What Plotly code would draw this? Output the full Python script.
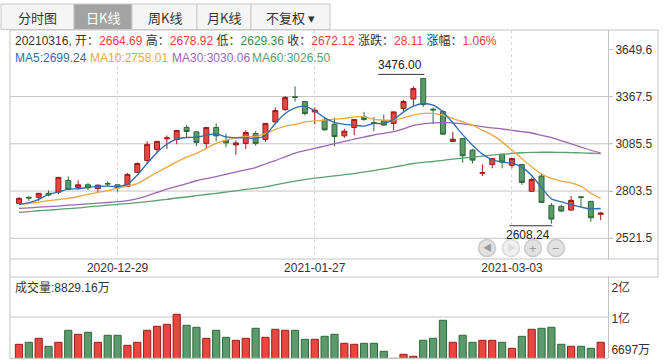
import plotly.graph_objects as go

# ---------------- data ----------------
dates = [
    "2020-12-15", "2020-12-16", "2020-12-17", "2020-12-18", "2020-12-21", "2020-12-22",
    "2020-12-23", "2020-12-24", "2020-12-25", "2020-12-28", "2020-12-29", "2020-12-30",
    "2020-12-31", "2021-01-04", "2021-01-05", "2021-01-06", "2021-01-07", "2021-01-08",
    "2021-01-11", "2021-01-12", "2021-01-13", "2021-01-14", "2021-01-15", "2021-01-18",
    "2021-01-19", "2021-01-20", "2021-01-21", "2021-01-22", "2021-01-25", "2021-01-26",
    "2021-01-27", "2021-01-28", "2021-01-29", "2021-02-01", "2021-02-02", "2021-02-03",
    "2021-02-04", "2021-02-05", "2021-02-08", "2021-02-09", "2021-02-10", "2021-02-18",
    "2021-02-19", "2021-02-22", "2021-02-23", "2021-02-24", "2021-02-25", "2021-02-26",
    "2021-03-01", "2021-03-02", "2021-03-03", "2021-03-04", "2021-03-05", "2021-03-08",
    "2021-03-09", "2021-03-10", "2021-03-11", "2021-03-12", "2021-03-15", "2021-03-16",
]
opens = [2730, 2766, 2766, 2790, 2797, 2867, 2825, 2841, 2819, 2848,
         2841, 2831, 2915, 2986, 3052, 3115, 3111, 3183, 3157, 3088,
         3183, 3106, 3079, 3088, 3147, 3111, 3216, 3290, 3366, 3338,
         3276, 3227, 3203, 3133, 3183, 3246, 3212, 3222, 3207, 3296,
         3353, 3475, 3292, 3278, 3100, 3117, 3048, 2910, 2962, 3024,
         2957, 2962, 2802, 2893, 2718, 2712, 2690, 2769, 2742, 2664.69]
highs = [2767, 2773, 2791, 2808, 2888, 2891, 2867, 2851, 2841, 2861,
         2843, 2911, 2975, 3101, 3103, 3135, 3167, 3197, 3160, 3184,
         3207, 3147, 3106, 3167, 3161, 3208, 3302, 3370, 3429, 3340,
         3302, 3246, 3242, 3175, 3232, 3276, 3246, 3260, 3278, 3346,
         3429, 3476.00, 3302, 3288, 3157, 3118, 3055, 2962, 3000, 3025,
         3000, 2965, 2885, 2909, 2732, 2722, 2774, 2771, 2744, 2678.92]
lows = [2728, 2745, 2745, 2772, 2785, 2809, 2813, 2809, 2797, 2829,
        2799, 2829, 2912, 2970, 3028, 3054, 3083, 3125, 3072, 3060,
        3100, 3066, 3020, 3055, 3075, 3097, 3212, 3282, 3338, 3255,
        3201, 3163, 3070, 3121, 3137, 3222, 3161, 3195, 3167, 3272,
        3312, 3306, 3203, 3140, 3097, 2972, 2968, 2893, 2939, 2939,
        2939, 2841, 2800, 2734, 2608.24, 2678, 2686, 2708, 2620, 2629.36]
closes = [2760, 2762, 2790, 2780, 2885, 2813, 2841, 2823, 2839, 2846,
          2823, 2903, 2968, 3082, 3100, 3121, 3165, 3159, 3094, 3183,
          3133, 3091, 3091, 3153, 3088, 3207, 3284, 3362, 3363, 3266,
          3286, 3169, 3129, 3161, 3231, 3231, 3208, 3197, 3276, 3338,
          3415, 3320, 3288, 3143, 3113, 3014, 2988, 2913, 2998, 2976,
          2998, 2855, 2873, 2736, 2636, 2684, 2748, 2766, 2644.01, 2672.12]
# volume in 万
volumes = [8559, 8825, 9357, 8293, 8825, 10421, 9889, 10155, 8825, 9756,
           9756, 8426, 8825, 10421, 10953, 11219, 12549, 11086, 10820, 9357,
           10421, 9490, 9091, 9357, 10687, 9490, 10554, 10421, 10421, 9224,
           9224, 9623, 9889, 8692, 8559, 8692, 8692, 7628, 6697, 7229,
           6963, 9091, 9357, 11751, 8825, 9756, 8825, 9091, 9091, 8825,
           8027, 9623, 10554, 10687, 10820, 8559, 8293, 8293, 8027, 8829.16]
ma5 = [2724, 2734, 2754, 2784, 2797, 2815, 2817, 2825, 2831, 2833,
       2831, 2845, 2899, 2968, 3034, 3083, 3113, 3123, 3125, 3137,
       3145, 3127, 3121, 3121, 3118, 3137, 3207, 3266, 3300, 3310,
       3282, 3240, 3213, 3201, 3197, 3191, 3207, 3207, 3231, 3276,
       3310, 3326, 3316, 3276, 3211, 3140, 3077, 3024, 2991, 2976,
       2970, 2946, 2896, 2824, 2757, 2740, 2722, 2708, 2697, 2699.24]
ma10 = [2724, 2729, 2738, 2746, 2753, 2760, 2771, 2784, 2795, 2806,
        2820, 2833, 2848, 2881, 2914, 2946, 2978, 3006, 3028, 3058,
        3088, 3107, 3121, 3130, 3128, 3147, 3171, 3191, 3201, 3216,
        3222, 3227, 3233, 3237, 3246, 3246, 3231, 3227, 3227, 3240,
        3256, 3267, 3267, 3256, 3237, 3216, 3197, 3167, 3137, 3097,
        3048, 2998, 2948, 2905, 2879, 2863, 2853, 2833, 2790, 2758.01]
ma30 = [2700, 2703, 2707, 2710, 2714, 2719, 2723, 2727, 2731, 2735,
        2740, 2746, 2758, 2775, 2795, 2815, 2831, 2848, 2865, 2878,
        2890, 2903, 2917, 2930, 2944, 2965, 2985, 3008, 3030, 3045,
        3058, 3072, 3086, 3100, 3114, 3126, 3138, 3148, 3158, 3175,
        3195, 3205, 3210, 3212, 3210, 3205, 3196, 3188, 3180, 3174,
        3166, 3158, 3150, 3136, 3123, 3105, 3085, 3066, 3047, 3030.06]
ma60 = [2676, 2681, 2686, 2690, 2694, 2699, 2703, 2709, 2714, 2719,
        2724, 2729, 2734, 2740, 2747, 2754, 2762, 2768, 2776, 2783,
        2790, 2797, 2805, 2813, 2821, 2829, 2840, 2852, 2863, 2872,
        2880, 2887, 2894, 2901, 2908, 2916, 2926, 2936, 2946, 2957,
        2968, 2975, 2980, 2987, 2994, 3000, 3006, 3012, 3018, 3023,
        3028, 3032, 3034, 3035, 3035, 3034, 3033, 3031, 3029, 3026.50]
price_ticks = [2521.5, 2803.5, 3085.5, 3367.5, 3649.6]
date_ticks = ["2020-12-29", "2021-01-27", "2021-03-03"]
vol_tick_labels = ["2亿", "1亿", "6697万"]
tab_labels = ["分时图", "日K线", "周K线", "月K线", "不复权 ▾"]

# ---------------- style ----------------
W, H = 664, 364
UP_FILL, UP_LINE = "#e8473f", "#991c1c"
DN_FILL, DN_LINE = "#5c9a6d", "#2d6a38"
RED_TXT, GRN_TXT = "#e8413c", "#3a8a52"
MA_COLORS = {"MA5": "#2f6eae", "MA10": "#eaa845", "MA30": "#9b68b4", "MA60": "#5aa070"}
FRAME = "#c4c4c4"
FONT = "Liberation Sans, Noto Sans CJK SC, sans-serif"


def px(x):
    return x / W


def py(y):
    return 1 - y / H


fig = go.Figure()
fig.add_trace(go.Candlestick(
    x=dates, open=opens, high=highs, low=lows, close=closes,
    increasing=dict(line=dict(color=UP_LINE, width=1), fillcolor=UP_FILL),
    decreasing=dict(line=dict(color=DN_LINE, width=1), fillcolor=DN_FILL),
    whiskerwidth=0, showlegend=False, hoverinfo="skip", xaxis="x", yaxis="y"))

for name, vals in [("MA60", ma60), ("MA30", ma30), ("MA10", ma10), ("MA5", ma5)]:
    fig.add_trace(go.Scatter(
        x=dates, y=vals, mode="lines", name=name, showlegend=False, hoverinfo="skip",
        line=dict(color=MA_COLORS[name], width=1.3, shape="spline", smoothing=0.7),
        xaxis="x", yaxis="y"))

up = [c >= o for o, c in zip(opens, closes)]
fig.add_trace(go.Bar(
    x=dates, y=volumes, showlegend=False, hoverinfo="skip",
    marker=dict(color=[UP_FILL if u else DN_FILL for u in up],
                line=dict(color=[UP_LINE if u else DN_LINE for u in up], width=1)),
    xaxis="x2", yaxis="y2"))

# axis scales (pixel geometry of the reference)
price_range = [2397.9, 3764.8]
vol_range = [6697, 17510]
vol_label_vals = [16047, 11924, 7801]
vol_grid_val = 12190

fig.update_layout(
    width=W, height=H, margin=dict(l=0, r=0, t=0, b=0),
    paper_bgcolor="white", plot_bgcolor="white",
    font=dict(family=FONT, size=12, color="#333"),
    bargap=0.27, boxgap=0.28,
    xaxis=dict(type="category", domain=[px(10), px(608)], range=[-0.91, 59.74],
               anchor="y", tickmode="array", tickvals=date_ticks, ticktext=date_ticks,
               showgrid=True, gridcolor="#d8d8d8", griddash="dot", gridwidth=1,
               showline=False, zeroline=False, ticks="", rangeslider=dict(visible=False),
               tickfont=dict(size=12, color="#333"), fixedrange=True),
    xaxis2=dict(type="category", domain=[px(10), px(608)], range=[-0.91, 59.74],
                anchor="y2", matches="x", showticklabels=False, showgrid=False,
                showline=False, zeroline=False, ticks=""),
    yaxis=dict(domain=[py(259), py(30)], range=price_range, side="right",
               tickmode="array", tickvals=price_ticks,
               ticktext=[f"{v:.1f}" for v in price_ticks],
               showgrid=False, zeroline=False, showline=True, linecolor=FRAME,
               ticks="outside", ticklen=4, tickcolor=FRAME,
               tickfont=dict(size=12, color="#333"), automargin=False),
    yaxis2=dict(domain=[py(358.3), py(277)], range=vol_range, side="right",
                tickmode="array", tickvals=vol_label_vals, ticktext=vol_tick_labels,
                showgrid=False, zeroline=False, showline=True, linecolor=FRAME,
                ticks="", tickfont=dict(size=12, color="#333"), automargin=False),
)

shapes = []
# gridlines for price axis (top one hidden behind info area in reference)
for v in price_ticks[:-1]:
    shapes.append(dict(type="line", xref="paper", yref="y", x0=px(10), x1=px(612),
                       y0=v, y1=v, line=dict(color=FRAME, width=1), layer="below"))
shapes.append(dict(type="line", xref="paper", yref="y2", x0=px(10), x1=px(608),
                   y0=vol_grid_val, y1=vol_grid_val, line=dict(color=FRAME, width=1), layer="below"))
# frame lines
for (x0, y0, x1, y1) in [(10, 30, 658, 30), (10, 259, 658, 259), (10, 277, 658, 277),
                         (10, 358.3, 608, 358.3), (10, 30, 10, 358.3), (658, 30, 658, 277)]:
    shapes.append(dict(type="line", xref="paper", yref="paper", x0=px(x0), x1=px(x1),
                       y0=py(y0), y1=py(y1), line=dict(color=FRAME, width=1)))

# tabs
tab_edges = [(1, 74), (74, 132), (132, 197), (197, 251), (251, 330)]
annotations = []
for i, (lab, (a, b)) in enumerate(zip(tab_labels, tab_edges)):
    sel = i == 1
    shapes.append(dict(type="rect", xref="paper", yref="paper", x0=px(a), x1=px(b),
                       y0=py(29.5), y1=py(4), fillcolor="#a3a3a3" if sel else "#f5f5f5",
                       line=dict(color="#c8c8c8", width=1)))
    annotations.append(dict(xref="paper", yref="paper", x=px((a + b) / 2), y=py(17),
                            text=lab, showarrow=False, xanchor="center", yanchor="middle",
                            font=dict(size=13, color="white" if sel else "#333",
                                      family="Noto Sans CJK SC, sans-serif")))

# info rows built from the data
chg = closes[-1] - closes[-2]
pct = chg / closes[-2] * 100
def col(v):
    return RED_TXT if v >= closes[-2] else GRN_TXT
row1 = (f"{dates[-1].replace('-', '')}, 开：<span style='color:{col(opens[-1])}'>{opens[-1]:.2f}</span> "
        f"高：<span style='color:{col(highs[-1])}'>{highs[-1]:.2f}</span> "
        f"低：<span style='color:{col(lows[-1])}'>{lows[-1]:.2f}</span> "
        f"收：<span style='color:{col(closes[-1])}'>{closes[-1]:.2f}</span> "
        f"涨跌：<span style='color:{RED_TXT if chg >= 0 else GRN_TXT}'>{chg:.2f}</span> "
        f"涨幅：<span style='color:{RED_TXT if chg >= 0 else GRN_TXT}'>{pct:.2f}%</span>")
annotations.append(dict(xref="paper", yref="paper", x=px(13), y=py(40), text=row1,
                        showarrow=False, xanchor="left", yanchor="middle",
                        font=dict(size=12, color="#333")))
ma_label_x = [13, 88, 170, 250]
for lx, (n, v) in zip(ma_label_x, [("MA5", ma5), ("MA10", ma10), ("MA30", ma30), ("MA60", ma60)]):
    annotations.append(dict(xref="paper", yref="paper", x=px(lx), y=py(58),
                            text=f"{n}:{v[-1]:.2f}", showarrow=False, xanchor="left",
                            yanchor="middle", font=dict(size=12, color=MA_COLORS[n])))
annotations.append(dict(xref="paper", yref="paper", x=px(13), y=py(287),
                        text=f"成交量:{volumes[-1]:.2f}万", showarrow=False,
                        xanchor="left", yanchor="middle", font=dict(size=12, color="#333")))

# max / min markers
imax = highs.index(max(highs))
imin = lows.index(min(lows))
annotations.append(dict(xref="x", yref="y", x=dates[imax], y=highs[imax], yshift=4,
                        text=f"{highs[imax]:.2f}", showarrow=False, xanchor="right",
                        yanchor="bottom", xshift=1, font=dict(size=12, color="#222")))
shapes.append(dict(type="line", xref="x", yref="y", xsizemode="pixel", ysizemode="pixel",
                   xanchor=dates[imax], yanchor=highs[imax], x0=-45, x1=1, y0=4, y1=4,
                   line=dict(color="#333", width=1)))
annotations.append(dict(xref="x", yref="y", x=dates[imin], y=lows[imin], yshift=-2,
                        text=f"{lows[imin]:.2f}", showarrow=False, xanchor="right",
                        yanchor="top", xshift=1, font=dict(size=12, color="#222")))
shapes.append(dict(type="line", xref="x", yref="y", xsizemode="pixel", ysizemode="pixel",
                   xanchor=dates[imin], yanchor=lows[imin], x0=-42, x1=1, y0=-2, y1=-2,
                   line=dict(color="#333", width=1)))

# navigation buttons
for cx, sym, dim in [(487, "◀", False), (511, "▶", True), (533, "+", False), (556, "−", False)]:
    shapes.append(dict(type="circle", xref="paper", yref="paper",
                       x0=px(cx - 8.5), x1=px(cx + 8.5), y0=py(248 + 8.5), y1=py(248 - 8.5),
                       fillcolor="#f0f0f0" if dim else "#e2e2e2",
                       line=dict(color="#d8d8d8" if dim else "#c9c9c9", width=1.5)))
    annotations.append(dict(xref="paper", yref="paper", x=px(cx), y=py(248), text=sym,
                            showarrow=False, xanchor="center", yanchor="middle",
                            font=dict(size=9 if sym in "◀▶" else 13,
                                      color="#dddddd" if dim else "#9a9a9a")))

fig.update_layout(shapes=shapes, annotations=annotations)
fig.write_html("out.html", config={"displayModeBar": False},
               post_script="document.body.style.margin='0';document.body.style.padding='0';")
